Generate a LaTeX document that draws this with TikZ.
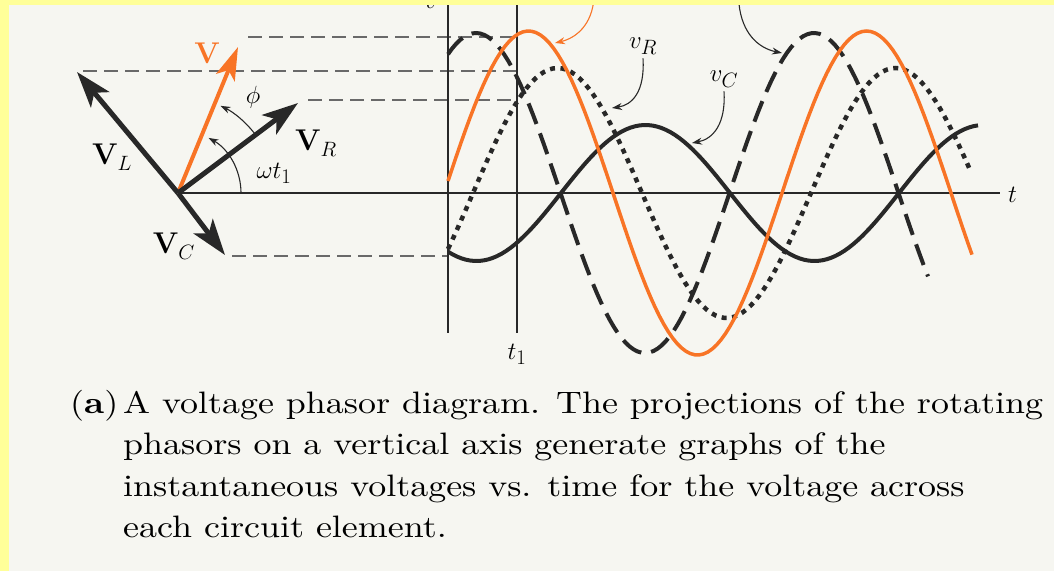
\documentclass[tikz,border=0pt]{standalone}
\usepackage{fontspec}
\usepackage{tikz}
\usepackage{xcolor}
\usetikzlibrary{arrows.meta}
\newfontfamily\CaptionFont{lmroman10-regular}[Extension=.otf,FakeStretch=1.16,BoldFont=lmroman10-bold]
\definecolor{paperYellow}{RGB}{255,255,153}
\definecolor{paperGrey}{RGB}{246,246,241}
\definecolor{phasorOrange}{RGB}{248,116,38}
\definecolor{inkDark}{RGB}{40,40,40}
\definecolor{guideGrey}{RGB}{105,105,105}
\newcommand{\LabelSize}{\fontsize{30}{34}\selectfont}
\newcommand{\CaptionSize}{\CaptionFont\fontsize{31}{41.3}\selectfont}

\begin{document}
\begin{tikzpicture}[x=1pt,y=-1pt,
  phasor/.style={line width=5pt,draw=inkDark,-{Stealth[length=36pt,width=24pt,inset=9pt]}},
  guide/.style={draw=guideGrey,line width=1.6pt,dash pattern=on 14pt off 7pt},
  wave/.style={line width=4pt,draw=inkDark,line cap=butt},
  callout/.style={line width=1.1pt,draw=inkDark,-{Stealth[length=10pt,width=7pt]}},
  anglearc/.style={line width=1.1pt,draw=inkDark,-{Stealth[length=10pt,width=7pt]}},
  lbl/.style={inner sep=0pt,font=\LabelSize}]
\fill[paperGrey] (0,0) rectangle (1054,571);
\useasboundingbox (0,0) rectangle (1054,571);

\node[lbl] (lblAxis) at (431,3) {$v$};

\coordinate (O) at (178,193);
\coordinate (tipV) at (238,47);
\coordinate (tipVL) at (77,72);
\coordinate (tipVR) at (298,103);
\coordinate (tipVC) at (225,255);
\coordinate (axisEnd) at (1000,193);
\coordinate (vTop) at (448,0);
\coordinate (vBot) at (448,333);
\coordinate (tTop) at (517,0);
\coordinate (tBot) at (517,333);

\coordinate (gV) at (248,37);   \coordinate (hV) at (517,37);
\coordinate (gVL) at (83,71);   \coordinate (hVL) at (517,71);
\coordinate (gVR) at (308,100); \coordinate (hVR) at (517,100);
\coordinate (gVC) at (232,256); \coordinate (hVC) at (448,256);
\draw[guide] (gV) -- (hV);
\draw[guide] (gVL) -- (hVL);
\draw[guide] (gVR) -- (hVR);
\draw[guide] (gVC) -- (hVC);

\draw[line width=1.5pt,inkDark] (O) -- (axisEnd);
\draw[line width=1.5pt,inkDark] (vTop) -- (vBot);
\draw[line width=1.5pt,inkDark] (tTop) -- (tBot);

\draw[line width=4pt,phasorOrange,-{Stealth[length=33pt,width=20pt,inset=8pt]}] (O) -- (tipV);
\draw[phasor] (O) -- (tipVL);
\draw[phasor] (O) -- (tipVR);
\draw[phasor] (O) -- (tipVC);

\draw[anglearc] (O) ++(0:63) arc[start angle=0,end angle=-61,radius=63];
\draw[anglearc] (O) ++(-38:97) arc[start angle=-38,end angle=-64,radius=97];

\node[lbl,text=phasorOrange] (lblV) at (207,53) {\textbf{V}};
\node[lbl] (lblVL) at (112,157) {\textbf{V}$_L$};
\node[lbl] (lblVR) at (316,143) {\textbf{V}$_R$};
\node[lbl] (lblVC) at (174,246) {\textbf{V}$_C$};
\node[lbl] (lblPhi) at (253,97) {$\phi$};
\node[lbl] (lblWt) at (274,173) {$\omega t_1$};

\draw[wave,dash pattern=on 22pt off 10pt] plot[domain=448:928,samples=120] (\x,{193-160*cos(((\x-476)/338)*360)});
\draw[wave,line width=4.5pt,dash pattern=on 5pt off 5.5pt] plot[domain=448:970,samples=120] (\x,{193-125*sin(((\x-473)/338)*360)});
\draw[wave] plot[domain=448:978,samples=120] (\x,{193-68*sin(((\x-561)/338)*360)});
\draw[wave,line width=3.5pt,draw=phasorOrange] plot[domain=448:972,samples=120] (\x,{193-162*sin(((\x-444)/338)*360)});

\node[lbl,anchor=west] (lblT) at (1008,195) {$t$};
\node[lbl] (lblT1) at (517,354) {$t_1$};
\node[lbl] (lblvR) at (643,46) {$v_R$};
\node[lbl] (lblvC) at (724,79) {$v_C$};

\coordinate (ptV) at (555,43);
\coordinate (ptVL) at (782,53);
\coordinate (ptVR) at (612,108);
\coordinate (ptVC) at (692,143);
\coordinate (srcV) at (594,-2);
\coordinate (srcVL) at (739,4);
\draw[callout,draw=phasorOrange] (srcV) .. controls (592,25) and (576,38) .. (ptV);
\draw[callout] (srcVL) .. controls (742,33) and (758,48) .. (ptVL);
\draw[callout] (lblvR.south) ++(0,4) .. controls (645,92) and (632,105) .. (ptVR);
\draw[callout] (lblvC.south) ++(0,4) .. controls (726,124) and (713,139) .. (ptVC);

\node[anchor=base west,inner sep=0pt,font=\CaptionSize] (capTag) at (70,413) {(\textbf{a})};
\node[anchor=north west,inner sep=0pt,align=left,font=\CaptionSize] (capText) at (123,391)
  {A voltage phasor diagram. The projections of the rotating\\
   phasors on a vertical axis generate graphs of the\\
   instantaneous voltages vs. time for the voltage across\\
   each circuit element.};

\fill[paperYellow] (0,0) rectangle (1054,5);
\fill[paperYellow] (0,0) rectangle (9,571);
\end{tikzpicture}
\end{document}
